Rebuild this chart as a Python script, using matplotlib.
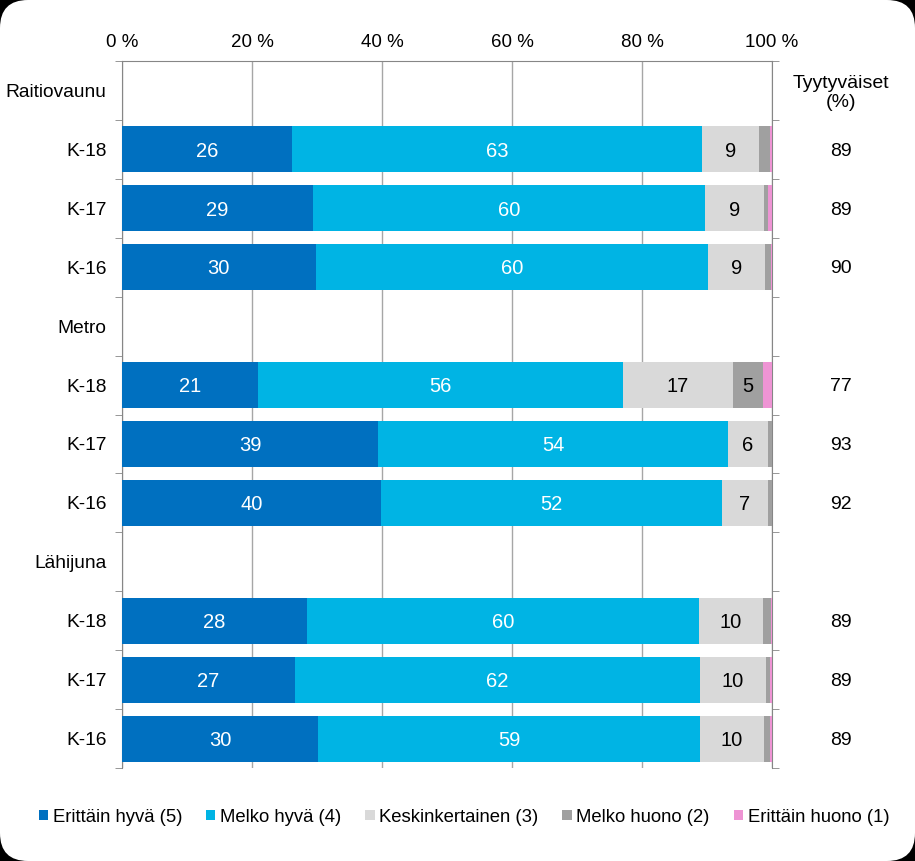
import matplotlib.pyplot as plt
from matplotlib.patches import FancyBboxPatch
from matplotlib.transforms import IdentityTransform
import numpy as np

plt.rcParams['font.family'] = ['Liberation Sans', 'DejaVu Sans']

# rivit ylhäältä alas (ryhmäotsikot ilman palkkeja)
rows = ['Raitiovaunu', 'K-18', 'K-17', 'K-16',
        'Metro', 'K-18', 'K-17', 'K-16',
        'Lähijuna', 'K-18', 'K-17', 'K-16']
bar_rows = [1, 2, 3, 5, 6, 7, 9, 10, 11]

erittain_hyva = [26.2, 29.4, 29.8, 20.9, 39.4, 39.8, 28.4, 26.6, 30.2]
melko_hyva = [63.0, 60.3, 60.4, 56.2, 53.8, 52.5, 60.4, 62.3, 58.7]
keskinkertainen = [8.8, 9.1, 8.7, 16.9, 6.2, 7.1, 9.8, 10.2, 9.9]
melko_huono = [1.7, 0.6, 1.0, 4.6, 0.6, 0.6, 1.2, 0.6, 0.9]
erittain_huono = [0.3, 0.6, 0.1, 1.4, 0.0, 0.0, 0.2, 0.3, 0.3]
tyytyvaiset = [89, 89, 90, 77, 93, 92, 89, 89, 89]

series = [
    ('Erittäin hyvä (5)', erittain_hyva, '#0070C0', 'white'),
    ('Melko hyvä (4)', melko_hyva, '#00B4E4', 'white'),
    ('Keskinkertainen (3)', keskinkertainen, '#D9D9D9', 'black'),
    ('Melko huono (2)', melko_huono, '#A0A0A0', 'black'),
    ('Erittäin huono (1)', erittain_huono, '#EE94D4', 'black'),
]

fig = plt.figure(figsize=(9.15, 8.61), dpi=100, facecolor='black')
bg = FancyBboxPatch((0, 0), 915, 861, boxstyle='round,pad=0,rounding_size=28',
                    transform=IdentityTransform(), fc='white', ec='none', zorder=-10)
fig.patches.append(bg)

ax = fig.add_axes([122 / 915, 1 - 768 / 861, 650 / 915, 707 / 861])
ax.set_facecolor('none')

y = np.array(bar_rows)
left = np.zeros(len(bar_rows))
for name, vals, col, tcol in series:
    vals = np.array(vals)
    ax.barh(y, vals, left=left, height=0.78, color=col, label=name, zorder=3)
    for yi, l, v in zip(y, left, vals):
        if v >= 3:
            ax.text(l + v / 2, yi + 0.03, f'{v:.0f}', ha='center', va='center',
                    color=tcol, fontsize=14.5, zorder=4)
    left += vals

ax.set_xlim(0, 100)
ax.set_ylim(11.5, -0.5)
ax.xaxis.tick_top()
ax.set_xticks(range(0, 101, 20))
ax.set_xticklabels([f'{v} %' for v in range(0, 101, 20)], fontsize=13.5)
ax.tick_params(axis='x', length=0, pad=7)
ax.grid(axis='x', color='#A6A6A6', linewidth=1, zorder=0)

ax.set_yticks(range(len(rows)))
ax.set_yticklabels(rows, fontsize=13.8)
ax.set_yticks(np.arange(-0.5, 12, 1), minor=True)
ax.tick_params(axis='y', which='major', length=0, pad=11)
ax.tick_params(axis='y', which='minor', length=5, color='#868686',
               left=True, right=True, direction='out')

ax.spines['bottom'].set_visible(False)
for s in ['top', 'left', 'right']:
    ax.spines[s].set_color('#868686')

# oikea sarake
ax.text(110.6, 0.05, 'Tyytyväiset\n(%)', ha='center', va='center', fontsize=14,
        linespacing=1.15, clip_on=False)
for yi, t in zip(bar_rows, tyytyvaiset):
    ax.text(110.6, yi + 0.03, str(t), ha='center', va='center', fontsize=14,
            clip_on=False)

handles, labels = ax.get_legend_handles_labels()
fig.legend(handles, labels, loc='center', bbox_to_anchor=(464 / 915, 1 - 817 / 861),
           ncol=5, frameon=False, fontsize=13.3, handlelength=0.5, handleheight=0.5,
           handletextpad=0.25, columnspacing=1.3)

fig.savefig('out.png', dpi=100, facecolor='black')
